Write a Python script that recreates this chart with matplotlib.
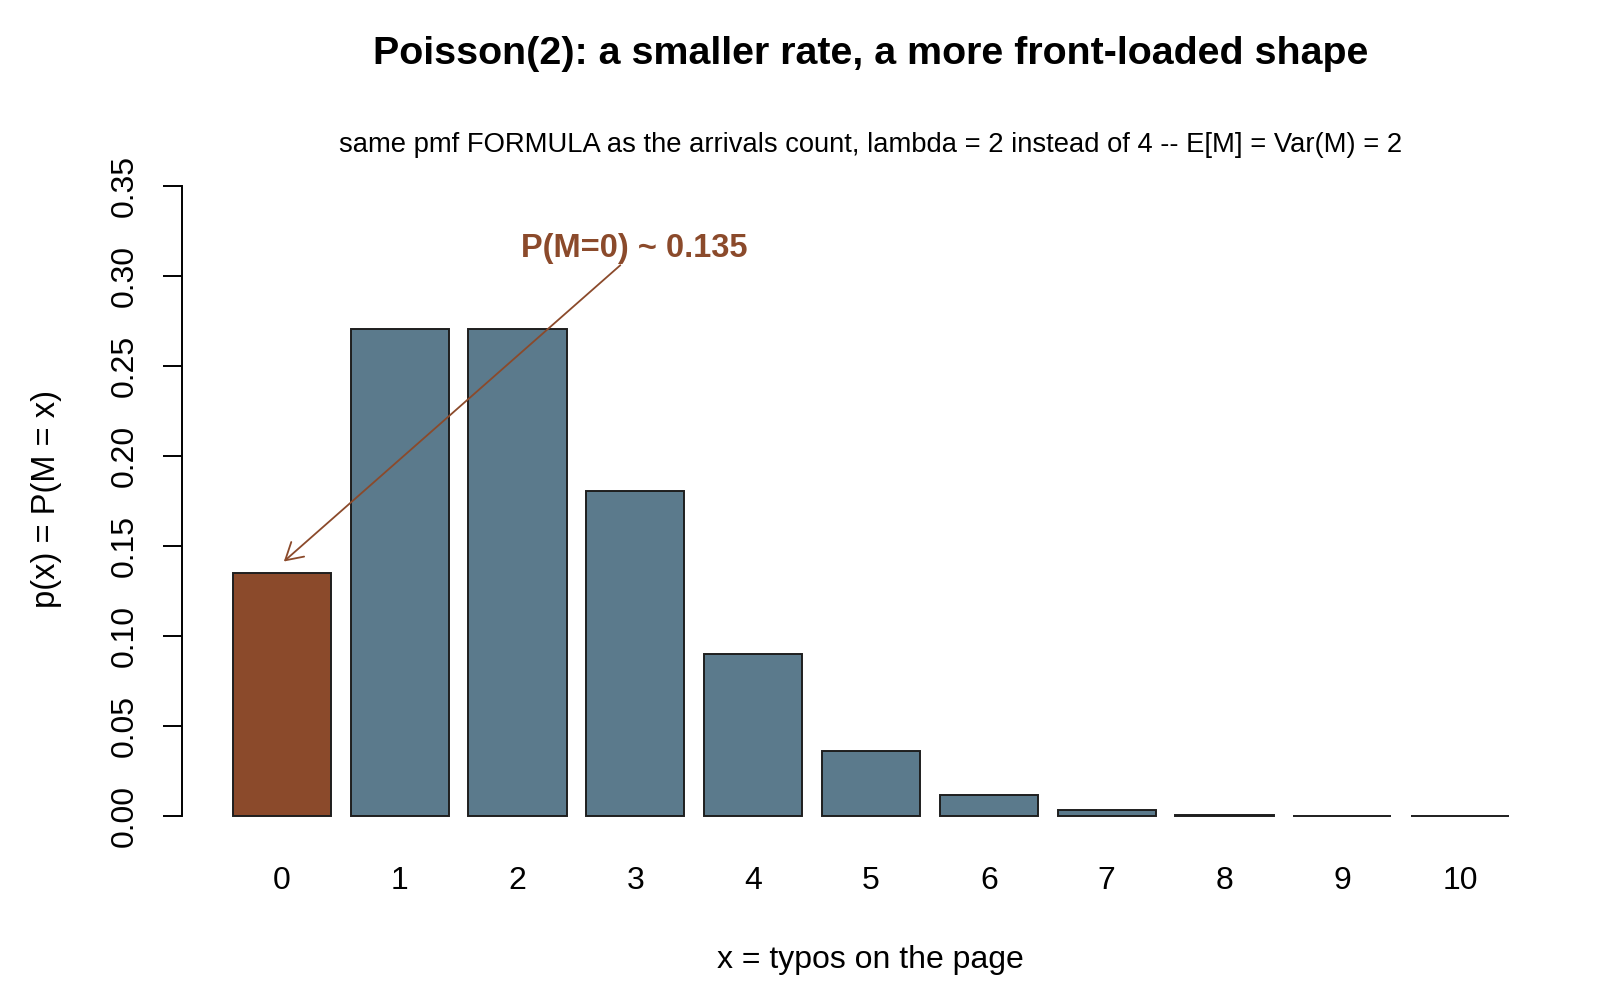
import numpy as np
from matplotlib import pyplot as plt

x_vals = [0, 1, 2, 3, 4, 5, 6, 7, 8, 9, 10]
pmf = [0.1353, 0.2707, 0.2707, 0.1804, 0.0902, 0.0361, 0.0120, 0.0034, 0.0009, 0.0002, 0.00004]
y_ticks = [0.00, 0.05, 0.10, 0.15, 0.20, 0.25, 0.30, 0.35]

highlight = "#8B4A2B"
base = "#5B7A8C"

plt.rcParams["font.family"] = ["Liberation Sans", "DejaVu Sans"]

fig = plt.figure(figsize=(16, 10), dpi=100)
ax = fig.add_axes([0.1135, 0.1585, 0.8617, 0.681])

# R barplot layout: width 1, space 0.2
centers = 0.7 + 1.2 * np.arange(len(x_vals))
colors = [highlight] + [base] * (len(x_vals) - 1)
ax.bar(centers, pmf, width=1.0, color=colors, edgecolor="#1e1e1e", linewidth=1.4)

ax.set_xlim(-0.32, 13.72)
ax.set_ylim(-0.014, 0.364)

for side in ["top", "right", "bottom"]:
    ax.spines[side].set_visible(False)
ax.spines["left"].set_bounds(0, 0.35)
ax.spines["left"].set_linewidth(1.4)

ax.set_xticks(centers)
ax.set_xticklabels([str(v) for v in x_vals], fontsize=23)
ax.tick_params(axis="x", length=0, pad=17.5)

ax.set_yticks(y_ticks)
ax.set_yticklabels(["%.2f" % v for v in y_ticks], fontsize=23, rotation=90, va="center")
ax.tick_params(axis="y", length=13.5, width=1.4, pad=16.5)

# annotation for P(M=0)
ax.annotate("", xy=(centers[0], 0.1404), xytext=(4.169, 0.3069),
            arrowprops=dict(arrowstyle="->,head_length=1.2,head_width=0.7",
                            color=highlight, lw=1.3))
ax.text(4.294, 0.3154, "P(M=0) ~ 0.135", color=highlight, fontsize=23.5,
        fontweight="bold", ha="center", va="center")

fig.text(0.544, 0.9457, "Poisson(2): a smaller rate, a more front-loaded shape",
         fontsize=28.4, fontweight="bold", ha="center", va="center")
fig.text(0.544, 0.8555, "same pmf FORMULA as the arrivals count, lambda = 2 instead of 4 -- E[M] = Var(M) = 2",
         fontsize=19.7, ha="center", va="center")
fig.text(0.544, 0.040, "x = typos on the page", fontsize=23, ha="center", va="center")
fig.text(0.029, 0.5015, "p(x) = P(M = x)", fontsize=23.5, ha="center", va="center", rotation=90)

fig.savefig("out.png", dpi=100)
